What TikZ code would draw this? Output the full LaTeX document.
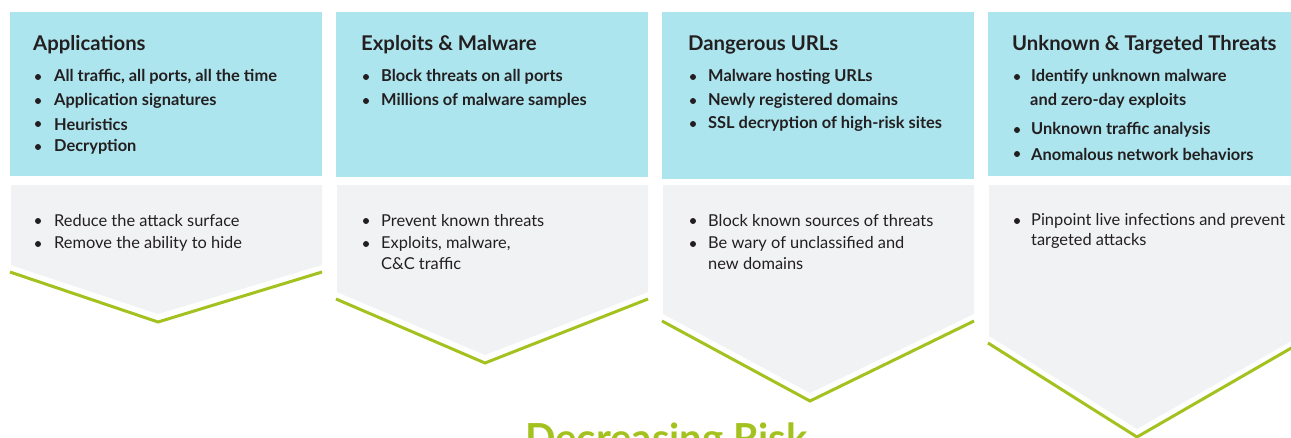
\documentclass[tikz,border=0pt]{standalone}
\usepackage{fontspec}
\setmainfont{Lato}
\definecolor{hdcyan}{HTML}{ADE5EE}
\definecolor{lowgray}{HTML}{F1F2F4}
\definecolor{riskgreen}{HTML}{A4C21F}
\definecolor{ink}{HTML}{231F20}
\begin{document}
\begin{tikzpicture}[x=1pt,y=-1pt,
 head/.style={anchor=west,inner sep=0pt,text=ink,font=\fontsize{20.3}{22}\selectfont\bfseries},
 topitem/.style={anchor=west,inner sep=0pt,text=ink,font=\fontsize{16.4}{18}\selectfont\bfseries},
 lowitem/.style={anchor=west,inner sep=0pt,text=ink,font=\fontsize{16.4}{18}\selectfont},
 blt/.style={circle,fill=ink,inner sep=0pt,minimum size=6pt}]
 \useasboundingbox[fill=white] (0,0) rectangle (1291,437);
 \clip (0,0) rectangle (1291,437);
 % cyan head boxes, gray chevrons with green rim
 \foreach \n/\l/\r/\b/\s/\p/\d in {1/10/322/176/265/158/49,2/336/648/177/292/485/63,3/662/974/179/314/810/79,4/988/1300/176/336/1137/93}{
 \fill[hdcyan] (\l,12) rectangle (\r,\b);
 \fill[lowgray] (\l+1,185) -- (\r,185) -- (\r,\s) -- (\p,\s+\d) -- (\l+1,\s) -- cycle;
 \draw[riskgreen,line width=3pt] (\l,\s+7) -- (\p,\s+\d+8) -- (\r,\s+7);
 }
 % headings
 \node[head] (h1) at (33,45) {Applications};
 \node[head] (h2) at (361,45) {Exploits \& Malware};
 \node[head] (h3) at (688,45) {Dangerous URLs};
 \node[head] (h4) at (1012,45) {Unknown \& Targeted Threats};
 % bullets in the cyan boxes
 \foreach \x/\y in {38/77,38/101,38/124,38/147,366/77,366/101,693/77,693/101,693/124,1017/77,1017/130,1017/154}
 \node[blt] at (\x,\y) {};
 \path
 (54,77) node[topitem] (a1) {All traffic, all ports, all the time}
 (54,101) node[topitem] (a2) {Application signatures}
 (54,124) node[topitem] (a3) {Heuristics}
 (54,147) node[topitem] (a4) {Decryption}
 (381,77) node[topitem] (b1) {Block threats on all ports}
 (381,101) node[topitem] (b2) {Millions of malware samples}
 (708,77) node[topitem] (c1) {Malware hosting URLs}
 (708,101) node[topitem] (c2) {Newly registered domains}
 (708,124) node[topitem] (c3) {SSL decryption of high-risk sites}
 (1031,77) node[topitem] (d1) {Identify unknown malware}
 (1030,101) node[topitem] (d2) {and zero-day exploits}
 (1031,130) node[topitem] (d3) {Unknown traffic analysis}
 (1031,154) node[topitem] (d4) {Anomalous network behaviors};
 % bullets in the gray chevrons
 \foreach \x/\y in {38/221,38/244,366/221,366/244,693/221,693/244,1017/221}
 \node[blt] at (\x,\y) {};
 \path
 (54,221) node[lowitem] (ra1) {Reduce the attack surface}
 (54,244) node[lowitem] (ra2) {Remove the ability to hide}
 (381,221) node[lowitem] (rb1) {Prevent known threats}
 (381,244) node[lowitem] (rb2) {Exploits, malware,}
 (381,264) node[lowitem] (rb3) {C\&C traffic}
 (708,221) node[lowitem] (rc1) {Block known sources of threats}
 (708,244) node[lowitem] (rc2) {Be wary of unclassified and}
 (708,264) node[lowitem] (rc3) {new domains}
 (1031,221) node[lowitem] (rd1) {Pinpoint live infections and prevent}
 (1031,241) node[lowitem] (rd2) {targeted attacks};
 \node[anchor=base west,inner sep=0pt,text=riskgreen,font=\fontsize{40}{42}\selectfont\bfseries] (risk) at (525,452) {Decreasing Risk};
\end{tikzpicture}
\end{document}
